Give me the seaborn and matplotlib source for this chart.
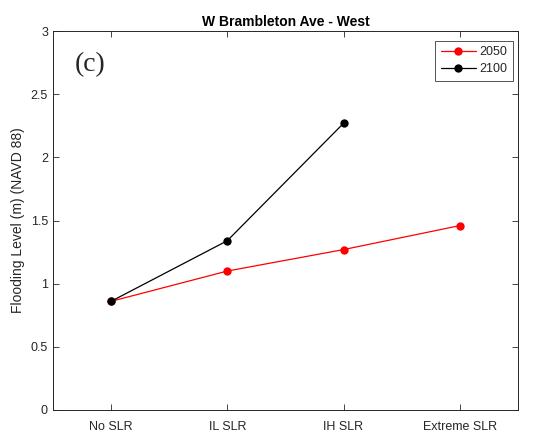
import matplotlib
matplotlib.use("Agg")
import matplotlib.pyplot as plt
import seaborn as sns
import pandas as pd

# Scenario categories and flooding levels (m, NAVD 88)
scenarios = ["No SLR", "IL SLR", "IH SLR", "Extreme SLR"]
level_2050 = [0.86, 1.10, 1.27, 1.46]
level_2100 = [0.86, 1.34, 2.27]
years = ["2050", "2100"]

rows = []
for yr, vals in zip(years, [level_2050, level_2100]):
    for i, v in enumerate(vals):
        rows.append({"pos": i + 1, "level": v, "year": yr})
df = pd.DataFrame(rows)

sns.set_style("white")
plt.rcParams["font.family"] = ["Liberation Sans", "DejaVu Sans"]

fig = plt.figure(figsize=(5.39, 4.44), dpi=100)
ax = fig.add_axes([0.098, 0.0766, 0.863, 0.8534])

sns.lineplot(data=df, x="pos", y="level", hue="year",
             palette={"2050": "#ff0000", "2100": "#000000"},
             marker="o", markersize=6, markeredgewidth=0,
             linewidth=0.9, ax=ax, sort=False)

ax.set_xlim(0.5, 4.5)
ax.set_ylim(0, 3)
ax.set_xticks(range(1, len(scenarios) + 1))
ax.set_xticklabels(scenarios)
ax.set_yticks([0, 0.5, 1, 1.5, 2, 2.5, 3])
ax.set_yticklabels(["0", "0.5", "1", "1.5", "2", "2.5", "3"])
ax.set_xlabel("")
ax.set_ylabel("Flooding Level (m) (NAVD 88)", fontsize=10, color="#262626")
ax.set_title("W Brambleton Ave - West", fontsize=10, fontweight="bold",
             color="#000000", pad=4)

ax.tick_params(axis="both", which="both", direction="in", length=4,
               width=0.6, colors="#262626", labelsize=9,
               top=True, right=True, bottom=True, left=True)
ax.tick_params(axis="x", pad=8)
for s in ax.spines.values():
    s.set_color("#262626")
    s.set_linewidth(0.7)
    s.set_visible(True)

ax.text(0.048, 0.945, "(c)", transform=ax.transAxes, fontsize=20,
        family=["Liberation Serif", "DejaVu Serif"], va="top", ha="left")

leg = ax.legend(loc="upper right", bbox_to_anchor=(0.99, 0.975),
                fontsize=9, frameon=True, fancybox=False,
                edgecolor="#262626", handlelength=2.8, borderpad=0.45,
                labelspacing=0.4, handletextpad=0.3, borderaxespad=0)
leg.get_frame().set_linewidth(0.7)
for line in leg.get_lines():
    line.set_linewidth(0.9)

fig.savefig("out.png", dpi=100)
